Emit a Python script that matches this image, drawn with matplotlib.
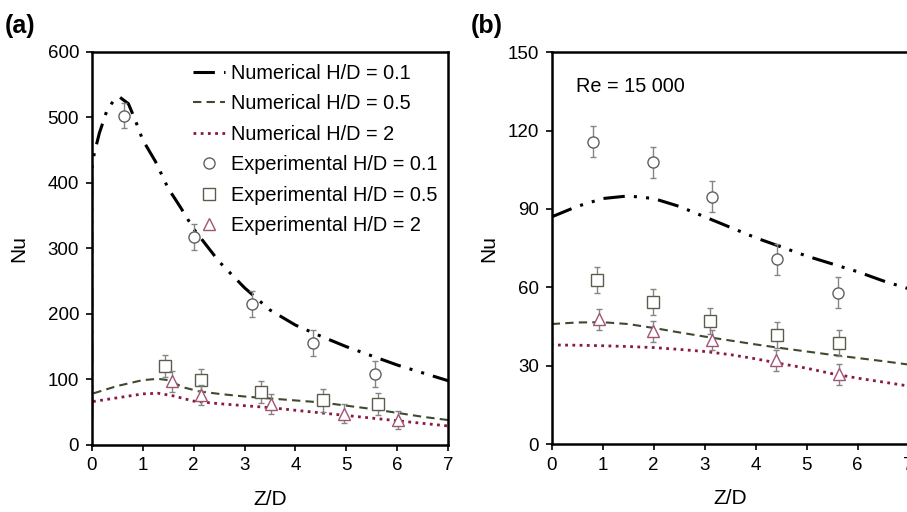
import matplotlib.pyplot as plt

plt.rcParams['font.family'] = ['Liberation Sans', 'DejaVu Sans']

# ---- panel (a) data ----
a_z01 = [0, 0, 0.05, 0.15, 0.3, 0.45, 0.55, 0.72, 0.85, 1.0, 1.25, 1.5, 1.75, 2.0, 2.5, 3.0, 3.5, 4.0, 4.5, 5.0, 5.5, 6.0, 6.5, 7.0]
a_nu01 = [40, 420, 445, 476, 511, 528, 531, 521, 497, 466, 433, 392, 362, 330, 280, 240, 206, 183, 166, 150, 136, 122, 110, 98]
a_z05 = [0, 0, 0.5, 1.0, 1.3, 1.5, 1.8, 2.1, 2.5, 3.0, 3.5, 4.0, 4.5, 5.0, 5.5, 6.0, 6.5, 7.0]
a_nu05 = [60, 78, 90, 99, 101, 99, 88, 82, 78, 74, 71, 68, 65, 60, 55, 49, 43, 38]
a_z2 = [0, 0, 0.5, 1.0, 1.3, 1.6, 2.0, 2.5, 3.0, 3.5, 4.0, 4.5, 5.0, 5.5, 6.0, 6.5, 7.0]
a_nu2 = [46, 66, 72, 78, 79, 75, 67, 63, 60, 57, 53, 49, 45, 41, 37, 33, 29]

a_ex01_z = [0.63, 2.01, 3.15, 4.35, 5.57]
a_ex01 = [503, 318, 215, 156, 108]
a_ex01_err = [19, 20, 20, 20, 20]
a_ex05_z = [1.43, 2.14, 3.33, 4.54, 5.61]
a_ex05 = [121, 99, 81, 68, 63]
a_ex05_err = [17, 17, 17, 17, 17]
a_ex2_z = [1.57, 2.14, 3.51, 4.95, 6.01]
a_ex2 = [97, 76, 63, 48, 38]
a_ex2_err = [16, 15, 15, 14, 14]

# ---- panel (b) data ----
b_z = [0, 0.5, 1.0, 1.5, 2.0, 2.5, 3.0, 3.5, 4.0, 4.5, 5.0, 5.5, 6.0, 6.5, 7.0]
b_nu01 = [87, 91, 94, 95, 94, 91, 87, 83, 79, 75.5, 72, 69, 66, 62.5, 59.5]
b_nu05 = [46, 46.6, 46.7, 46, 44.5, 42.8, 41.2, 39.7, 38.2, 36.8, 35.5, 34.2, 33, 31.8, 30.5]
b_z2 = [0] + b_z
b_nu2 = [66, 38, 37.9, 37.7, 37.4, 37, 36.3, 35.5, 34.3, 32.7, 30.8, 29.1, 27.0, 25.3, 23.8, 22.3]

b_ex01_z = [0.80, 1.99, 3.15, 4.41, 5.62]
b_ex01 = [115.7, 107.8, 94.7, 70.7, 58.0]
b_ex01_err = [6, 6, 6, 6, 6]
b_ex05_z = [0.88, 1.98, 3.10, 4.42, 5.63]
b_ex05 = [62.8, 54.5, 47.1, 41.9, 38.7]
b_ex05_err = [5, 5, 5, 5, 5]
b_ex2_z = [0.93, 1.98, 3.15, 4.39, 5.64]
b_ex2 = [47.8, 43.3, 39.9, 32.2, 26.8]
b_ex2_err = [4, 4, 4, 4, 4]

c01 = 'black'
c05 = '#3e4a2c'
c2 = '#8a1a3c'
m01 = '#606060'
m05 = '#5c5c4c'
m2 = '#a05575'
ecol = '#858585'
dashdotdot = (0, (7, 3, 1, 3, 1, 3))

fig = plt.figure(figsize=(9.07, 5.12), dpi=100)
ax1 = fig.add_axes([0.1011, 0.1309, 0.3932, 0.7676])
ax2 = fig.add_axes([0.6083, 0.1322, 0.3936, 0.766])


def draw(ax, z01, n01, z05, n05, z2, n2, exps, ypad):
    ax.plot(z01, n01, color=c01, lw=2.2, linestyle=dashdotdot, label='Numerical H/D = 0.1')
    ax.plot(z05, n05, color=c05, lw=1.5, linestyle=(0, (4, 2.5)), label='Numerical H/D = 0.5')
    ax.plot(z2, n2, color=c2, lw=2, linestyle=(0, (1, 1.6)), label='Numerical H/D = 2')
    for (z, v, e, mk, col, name) in exps:
        ax.errorbar(z, v, yerr=e, fmt='none', ecolor=ecol, elinewidth=1,
                    capsize=2.5, capthick=1)
        ax.plot(z, v, mk, mfc='white', mec=col, ms=8, mew=1, linestyle='none', label=name)
    ax.set_xlim(0, 7)
    ax.set_xticks(range(8))
    ax.set_xlabel('Z/D', fontsize=15, labelpad=11)
    ax.set_ylabel('Nu', fontsize=15, labelpad=ypad)
    ax.tick_params(labelsize=13.5, direction='out', length=4, width=1.2, pad=5)
    for s in ax.spines.values():
        s.set_linewidth(1.8)


draw(ax1, a_z01, a_nu01, a_z05, a_nu05, a_z2, a_nu2,
     [(a_ex01_z, a_ex01, a_ex01_err, 'o', m01, 'Experimental H/D = 0.1'),
      (a_ex05_z, a_ex05, a_ex05_err, 's', m05, 'Experimental H/D = 0.5'),
      (a_ex2_z, a_ex2, a_ex2_err, '^', m2, 'Experimental H/D = 2')], 14)
ax1.set_ylim(0, 600)
ax1.set_yticks(range(0, 601, 100))
ax1.legend(loc='upper right', bbox_to_anchor=(1.01, 1.008), frameon=False, fontsize=14.3,
           handlelength=1.6, handletextpad=0.3, labelspacing=0.58, borderpad=0.25)

draw(ax2, b_z, b_nu01, b_z, b_nu05, b_z2, b_nu2,
     [(b_ex01_z, b_ex01, b_ex01_err, 'o', m01, 'Experimental H/D = 0.1'),
      (b_ex05_z, b_ex05, b_ex05_err, 's', m05, 'Experimental H/D = 0.5'),
      (b_ex2_z, b_ex2, b_ex2_err, '^', m2, 'Experimental H/D = 2')], 7)
ax2.set_ylim(0, 150)
ax2.set_yticks(range(0, 151, 30))
ax2.text(0.48, 137, 'Re = 15 000', fontsize=14.3, va='center', ha='left')

fig.text(0.005, 0.95, '(a)', fontsize=18, fontweight='bold', va='center')
fig.text(0.519, 0.95, '(b)', fontsize=18, fontweight='bold', va='center')

fig.savefig('out.png', dpi=100)
